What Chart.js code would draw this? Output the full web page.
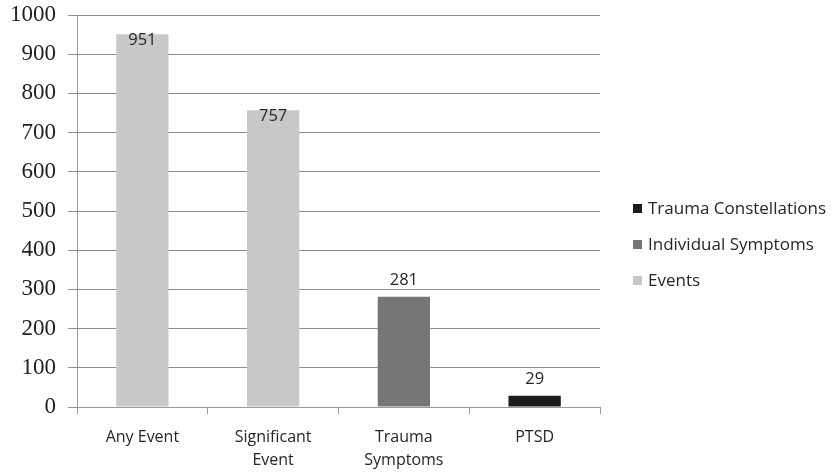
<!DOCTYPE html>
<html>
<head>
<meta charset="utf-8">
<script src="https://cdn.jsdelivr.net/npm/chart.js@4/dist/chart.umd.min.js"></script>
<style>
  html, body { margin: 0; padding: 0; background: #fff; }
  #wrap { width: 834px; height: 473px; position: relative; }
</style>
</head>
<body>
<div id="wrap"><canvas id="c" width="834" height="473"></canvas></div>
<script>
// Categories along the x axis (multi-line labels)
const categories = [["Any Event"], ["Significant", "Event"], ["Trauma", "Symptoms"], ["PTSD"]];

// One series per kind of count; each fills only its own category
const events = [951, 757, null, null];
const individualSymptoms = [null, null, 281, null];
const traumaConstellations = [null, null, null, 29];

const yTicks = [0, 100, 200, 300, 400, 500, 600, 700, 800, 900, 1000];

const sansFont = "'Open Sans', 'Noto Sans', sans-serif";
const serifFont = "'Liberation Serif', 'DejaVu Serif', serif";
const textColor = '#262626';

// Value labels: inside the top of tall bars, above short ones
const valueLabels = {
  id: 'valueLabels',
  afterDatasetsDraw(chart) {
    const ctx = chart.ctx;
    const yScale = chart.scales.y;
    ctx.save();
    ctx.font = "16.5px " + sansFont;
    ctx.fillStyle = textColor;
    ctx.textAlign = 'center';
    chart.data.datasets.forEach((ds, di) => {
      const meta = chart.getDatasetMeta(di);
      meta.data.forEach((bar, i) => {
        const v = ds.data[i];
        if (v === null || v === undefined) return;
        if (v > yScale.max / 2) {
          ctx.textBaseline = 'top';
          ctx.fillText(String(v), bar.x, bar.y - 2);
        } else {
          ctx.textBaseline = 'bottom';
          ctx.fillText(String(v), bar.x, bar.y - 8);
        }
      });
    });
    ctx.restore();
  }
};

// Legend on the right, listed top-down in reverse series order
const sideLegend = {
  id: 'sideLegend',
  afterDraw(chart) {
    const ctx = chart.ctx;
    const items = chart.data.datasets.slice().reverse();
    const x = 633, y0 = 209, step = 36;
    ctx.save();
    ctx.font = "17px " + sansFont;
    ctx.textBaseline = 'middle';
    ctx.textAlign = 'left';
    items.forEach((ds, k) => {
      const y = y0 + k * step;
      ctx.fillStyle = ds.backgroundColor;
      ctx.fillRect(x, y - 5, 9, 9);
      ctx.fillStyle = textColor;
      ctx.fillText(ds.label, x + 15, y);
    });
    ctx.restore();
  }
};

new Chart(document.getElementById('c'), {
  type: 'bar',
  data: {
    labels: categories,
    datasets: [
      { label: 'Events', data: events, backgroundColor: '#c8c8c8' },
      { label: 'Individual Symptoms', data: individualSymptoms, backgroundColor: '#767676' },
      { label: 'Trauma Constellations', data: traumaConstellations, backgroundColor: '#1c1c1c' }
    ]
  },
  options: {
    responsive: false,
    animation: false,
    layout: { padding: { top: 15, right: 234, left: 0, bottom: 0 } },
    datasets: { bar: { categoryPercentage: 1.0, barPercentage: 0.4 } },
    plugins: {
      legend: { display: false },
      tooltip: { enabled: false }
    },
    scales: {
      x: {
        stacked: true,
        afterFit(scale) { scale.height = 66; },
        grid: {
          offset: true,
          drawOnChartArea: false,
          drawTicks: true,
          tickLength: 7,
          color: '#9a9a9a'
        },
        border: { color: '#9a9a9a', width: 1 },
        ticks: {
          padding: 12,
          color: textColor,
          font: { family: sansFont, size: 16, lineHeight: 1.45 }
        }
      },
      y: {
        stacked: true,
        min: 0,
        max: 1000,
        afterFit(scale) {
          scale.width = 77;
          scale.paddingTop = 0;
          scale.paddingBottom = 0;
        },
        afterBuildTicks(scale) { scale.ticks = yTicks.map(v => ({ value: v })); },
        grid: {
          color: '#8c8c8c',
          tickLength: 9,
          lineWidth: 1
        },
        border: { color: '#9a9a9a', width: 1 },
        ticks: {
          padding: 12,
          color: '#222',
          font: { family: serifFont, size: 23 },
          callback: (v) => String(v)
        }
      }
    }
  },
  plugins: [valueLabels, sideLegend]
});
</script>
</body>
</html>
